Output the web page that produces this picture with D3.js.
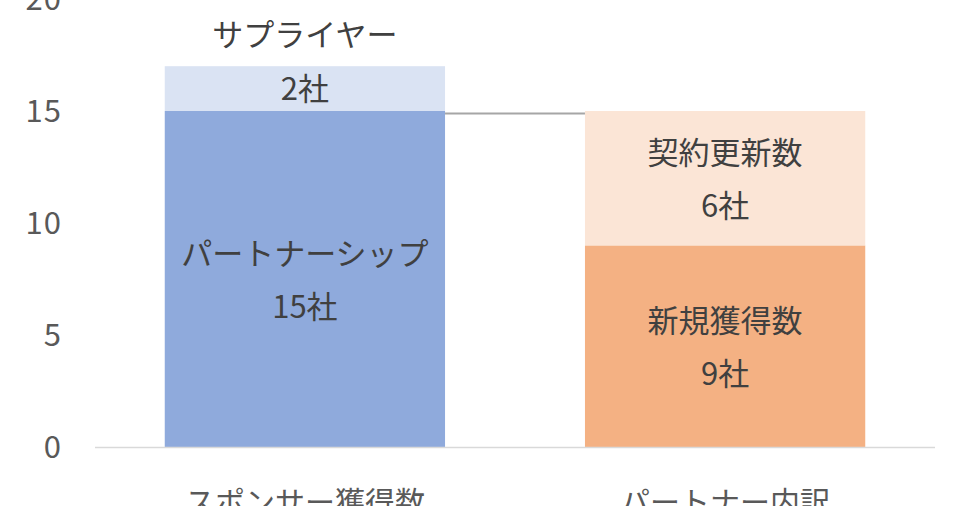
<!DOCTYPE html>
<html>
<head>
<meta charset="utf-8">
<script src="https://cdn.jsdelivr.net/npm/d3@7"></script>
<style>
  body { margin: 0; background: #fff; }
  text { font-family: "Noto Sans CJK JP", "Noto Sans", sans-serif; }
</style>
</head>
<body>
<div id="chart"></div>
<script>
const width = 968;
const height = 506;

// categories on the x axis
const categories = ['スポンサー獲得数', 'パートナー内訳'];

// stacked segments, bottom to top, per category
const segmentNames = [
    ['パートナーシップ', 'サプライヤー'],
    ['新規獲得数', '契約更新数']
];
const segmentValues = [
    [15, 2],
    [9, 6]
];
const segmentColors = [
    ['#8faadc', '#dae3f3'],
    ['#f4b183', '#fbe5d6']
];

const yTicks = [0, 5, 10, 15, 20];

const svg = d3.select('#chart')
    .append('svg')
    .attr('width', width)
    .attr('height', height);

const x = d3.scaleBand()
    .domain(categories)
    .range([95, 935])
    .paddingInner(0.333)
    .paddingOuter(0.166);

const y = d3.scaleLinear()
    .domain([0, 20])
    .range([447, -1]);

// y tick labels (no axis line)
svg.append('g')
    .selectAll('text')
    .data(yTicks)
    .enter()
    .append('text')
    .attr('x', 62)
    .attr('y', d => y(d))
    .attr('dy', '0.36em')
    .attr('text-anchor', 'end')
    .attr('fill', '#595959')
    .style('font-size', '31px')
    .style('letter-spacing', '1px')
    .text(d => d);

// build stacked rows
let rows = [];
categories.forEach((c, i) => {
    let base = 0;
    segmentValues[i].forEach((v, j) => {
        rows.push({cat: c, name: segmentNames[i][j], value: v, y0: base, y1: base + v, color: segmentColors[i][j]});
        base += v;
    });
});

svg.append('g')
    .selectAll('rect')
    .data(rows)
    .enter()
    .append('rect')
    .attr('x', d => x(d.cat))
    .attr('width', x.bandwidth())
    .attr('y', d => y(d.y1))
    .attr('height', d => y(d.y0) - y(d.y1))
    .attr('fill', d => d.color);

// series line between the two bar tops
const total0 = d3.sum(segmentValues[0].slice(0, 1));
svg.append('line')
    .attr('x1', x(categories[0]) + x.bandwidth())
    .attr('x2', x(categories[1]))
    .attr('y1', y(total0) + 2.5)
    .attr('y2', y(total0) + 2.5)
    .attr('stroke', '#a6a6a6')
    .attr('stroke-width', 2);

// x axis line
svg.append('line')
    .attr('x1', 95)
    .attr('x2', 935)
    .attr('y1', y(0) + 0.5)
    .attr('y2', y(0) + 0.5)
    .attr('stroke', '#d9d9d9')
    .attr('stroke-width', 1.5);

// category labels (cut off at the bottom edge)
svg.append('g')
    .selectAll('text')
    .data(categories)
    .enter()
    .append('text')
    .attr('x', d => x(d) + x.bandwidth() / 2)
    .attr('y', 513)
    .attr('text-anchor', 'middle')
    .attr('fill', '#595959')
    .style('font-size', '30px')
    .text(d => d);

// data labels: name line and count line
const labels = svg.append('g');
rows.forEach(d => {
    const cx = x(d.cat) + x.bandwidth() / 2;
    const mid = (y(d.y0) + y(d.y1)) / 2;
    const small = (y(d.y0) - y(d.y1)) < 80;
    const nameY = small ? mid - 54 : mid - 25;
    const countY = small ? mid : mid + 28;
    labels.append('text')
        .attr('x', cx)
        .attr('y', nameY)
        .attr('dy', '0.36em')
        .attr('text-anchor', 'middle')
        .attr('fill', '#404040')
        .style('font-size', '31px')
        .text(d.name);
    labels.append('text')
        .attr('x', cx)
        .attr('y', countY)
        .attr('dy', '0.36em')
        .attr('text-anchor', 'middle')
        .attr('fill', '#404040')
        .style('font-size', '31px')
        .text(d.value + '社');
});
</script>
</body>
</html>
